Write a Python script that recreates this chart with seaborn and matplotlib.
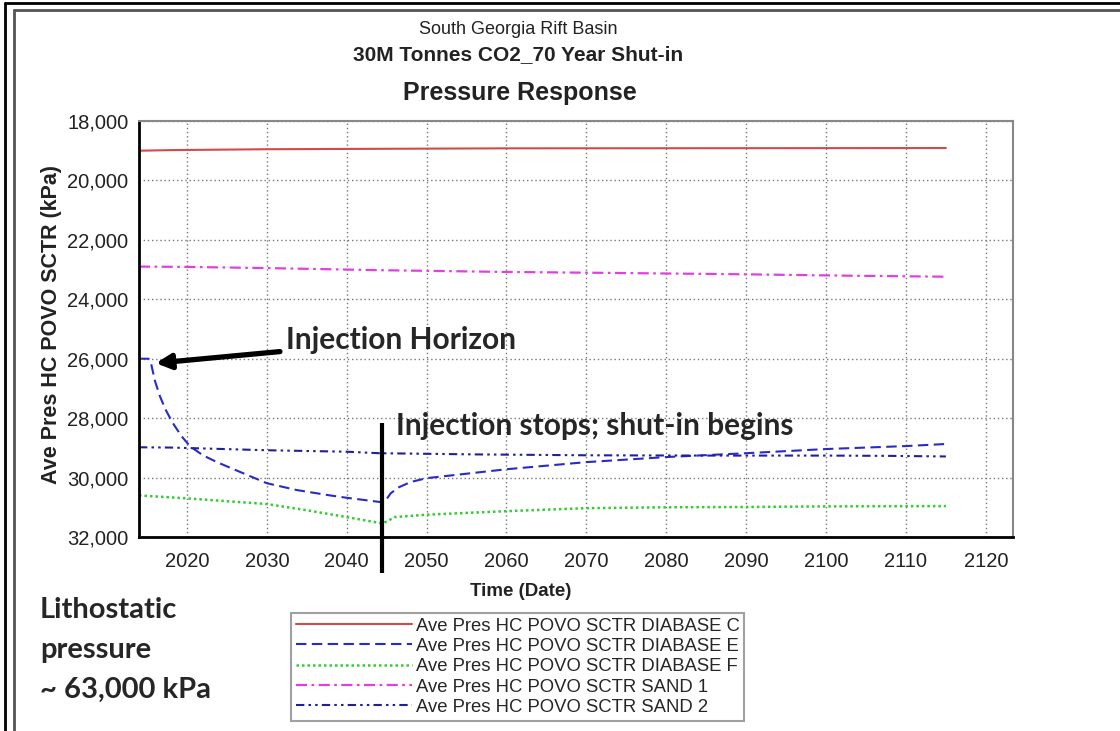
import numpy as np
import pandas as pd
import matplotlib
matplotlib.use("Agg")
import matplotlib.pyplot as plt
from matplotlib.lines import Line2D
import seaborn as sns

# ---------------- data ----------------
years_c = [2014, 2018, 2030, 2060, 2115]
diabase_c = [19000, 18980, 18950, 18920, 18910]

years_e = [2014, 2015.2, 2015.5, 2016.0, 2016.6, 2017.3, 2018.2, 2019.3, 2020.4, 2022,
           2023.75, 2027, 2030, 2033.75, 2037.9, 2040, 2044.4, 2044.8, 2045.5, 2046.5,
           2048, 2050, 2060, 2070, 2080, 2090, 2100, 2110, 2115]
diabase_e = [26000, 26000, 26150, 26750, 27250, 27700, 28150, 28600, 28950, 29250,
             29480, 29850, 30190, 30420, 30600, 30680, 30830, 30800, 30530, 30330,
             30150, 30020, 29720, 29480, 29310, 29180, 29040, 28940, 28870]

years_f = [2014, 2020, 2030, 2035, 2040, 2044.4, 2045, 2046, 2050, 2060, 2070, 2080,
           2090, 2100, 2115]
diabase_f = [30600, 30700, 30890, 31100, 31330, 31540, 31480, 31330, 31250, 31130,
             31030, 31000, 30990, 30970, 30960]

years_s1 = [2014, 2020, 2030, 2044, 2060, 2072, 2090, 2104, 2115]
sand_1 = [22900, 22910, 22950, 23020, 23080, 23110, 23160, 23210, 23240]

years_s2 = [2014, 2018, 2030, 2040, 2044, 2056, 2070, 2085, 2100, 2108, 2115]
sand_2 = [28980, 28990, 29080, 29130, 29180, 29220, 29250, 29260, 29260, 29270, 29290]

labels = ["Ave Pres HC POVO SCTR DIABASE C", "Ave Pres HC POVO SCTR DIABASE E",
          "Ave Pres HC POVO SCTR DIABASE F", "Ave Pres HC POVO SCTR SAND 1",
          "Ave Pres HC POVO SCTR SAND 2"]
x_ticks = [2020, 2030, 2040, 2050, 2060, 2070, 2080, 2090, 2100, 2110, 2120]
y_ticks = [18000, 20000, 22000, 24000, 26000, 28000, 30000, 32000]

shutin_year = 2044.4
injection_point = (2016.1, 26150)
injection_text_pos = (2032.4, 25380)
shutin_text_pos = (2046.2, 28270)

# ---------------- style ----------------
sns.set_style("white")
plt.rcParams["font.family"] = ["Liberation Sans", "DejaVu Sans"]
callout_font = ["Lato", "DejaVu Sans"]

W, H = 1120, 731
fig = plt.figure(figsize=(W / 100, H / 100), dpi=100)
ax = fig.add_axes([139 / W, 1 - 537 / H, (1013 - 139) / W, (537 - 121) / H])

colors = ["#d24a4a", "#2a2ac8", "#33cc33", "#e040e0", "#20209a"]
widths = [1.5, 1.5, 1.8, 1.6, 1.5]
dash_list = [None, (5, 2.6), (1.0, 1.2), (5, 2, 1.2, 2), (4, 2, 1.2, 2, 1.2, 2)]
series = [(years_c, diabase_c), (years_e, diabase_e), (years_f, diabase_f),
          (years_s1, sand_1), (years_s2, sand_2)]

for (xs, ys), lab, col, d, w in zip(series, labels, colors, dash_list, widths):
    df = pd.DataFrame({"year": xs, "p": ys})
    sns.lineplot(data=df, x="year", y="p", ax=ax, color=col, lw=w, label=lab,
                 legend=False)
    ln = ax.get_lines()[-1]
    if d is not None:
        ln.set_dashes(d)

ax.set_xlim(2014.0, 2123.4)
ax.set_ylim(32000, 18000)
ax.set_xticks(x_ticks)
ax.set_xticklabels([str(t) for t in x_ticks])
ax.set_yticks(y_ticks)
ax.set_yticklabels([f"{t:,}" for t in y_ticks])
ax.tick_params(axis="both", direction="out", length=6.5, width=1.5, color="black",
               labelsize=14.5, labelcolor="#222222")
ax.tick_params(axis="y", pad=1)
ax.tick_params(axis="x", pad=4)
ax.grid(True, color="#777777", linestyle=(0, (1, 2)), lw=1)

for s in ["left", "bottom"]:
    ax.spines[s].set_color("black")
    ax.spines[s].set_linewidth(2)
for s in ["top", "right"]:
    ax.spines[s].set_color("#888888")
    ax.spines[s].set_linewidth(1.5)

ax.set_xlabel("Time (Date)", fontsize=13.5, fontweight="bold", labelpad=9, color="#222222")
ax.xaxis.label.set_x((521 - 139) / (1013 - 139))
ax.set_ylabel("Ave Pres HC POVO SCTR (kPa)", fontsize=15.5, fontweight="bold",
              labelpad=4, color="#222222")
ax.yaxis.label.set_y((537 - 324) / (537 - 121))

# shut-in marker line
ax.plot([shutin_year, shutin_year], [28170, 33220], color="black", lw=3,
        clip_on=False, solid_capstyle="butt")

# annotations
ax.annotate("Injection Horizon", xy=injection_point, xytext=injection_text_pos,
            fontsize=21.5, fontweight="bold", family=callout_font, ha="left", va="center",
            arrowprops=dict(arrowstyle="-|>", lw=3.8, color="black", mutation_scale=22,
                            shrinkA=2, shrinkB=0))
ax.text(shutin_text_pos[0], shutin_text_pos[1], "Injection stops; shut-in begins",
        fontsize=21.5, fontweight="bold", family=callout_font, ha="left", va="center")

fig.text(40 / W, 1 - 597 / H, "Lithostatic\npressure\n~ 63,000 kPa", fontsize=21,
         fontweight="bold", family=callout_font, ha="left", va="top", linespacing=1.66)

# titles
fig.text(518 / W, 1 - 29 / H, "South Georgia Rift Basin", fontsize=13, ha="center",
         va="center", color="#222222")
fig.text(518 / W, 1 - 55 / H, "30M Tonnes CO2_70 Year Shut-in", fontsize=15,
         fontweight="bold", ha="center", va="center", color="#222222")
fig.text(520 / W, 1 - 93 / H, "Pressure Response", fontsize=18, fontweight="bold",
         ha="center", va="center", color="#222222")

# legend
handles = ax.get_lines()[:5]
leg = fig.legend(handles, labels, loc="upper left",
                 bbox_to_anchor=(291 / W, 1 - 613 / H), fontsize=13.3,
                 handlelength=6.3, handletextpad=0.2, labelspacing=0.18,
                 borderpad=0.25, borderaxespad=0, fancybox=False, frameon=True)
leg.get_frame().set_edgecolor("#888888")
leg.get_frame().set_linewidth(1.5)

# outer frame lines
fig.add_artist(Line2D([5 / W, 1], [1 - 3 / H, 1 - 3 / H], color="black", lw=2,
                      transform=fig.transFigure))
fig.add_artist(Line2D([5 / W, 5 / W], [0, 1 - 3 / H], color="black", lw=2,
                      transform=fig.transFigure))
fig.add_artist(Line2D([14 / W, 1], [1 - 10 / H, 1 - 10 / H], color="#555555", lw=2,
                      transform=fig.transFigure))
fig.add_artist(Line2D([14 / W, 14 / W], [0, 1 - 10 / H], color="#555555", lw=2,
                      transform=fig.transFigure))

fig.savefig("out.png", dpi=100, facecolor="white")
